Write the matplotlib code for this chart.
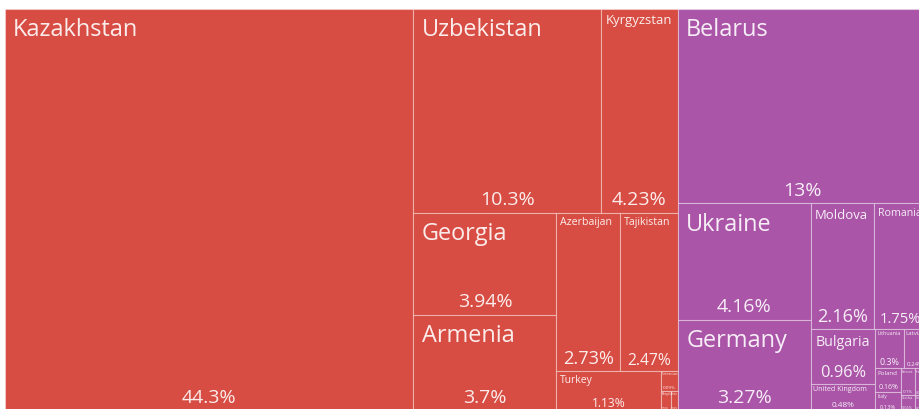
import matplotlib.pyplot as plt
from matplotlib.patches import Rectangle

plt.rcParams['font.family'] = ['Open Sans', 'DejaVu Sans']

# export shares (%) by destination, grouped by continent
asia_countries = ["Kazakhstan", "Uzbekistan", "Kyrgyzstan", "Georgia", "Armenia",
                  "Azerbaijan", "Tajikistan", "Turkey", "Turkmenistan", "Mongolia", "China"]
asia_shares = [44.3, 10.3, 4.23, 3.94, 3.7, 2.73, 2.47, 1.13, 0.09, 0.05, 0.04]

europe_countries = ["Belarus", "Ukraine", "Germany", "Moldova", "Romania", "Bulgaria",
                    "United Kingdom", "Lithuania", "Latvia", "Poland", "Italy",
                    "Estonia", "France", "Czechia", "Serbia"]
europe_shares = [13, 4.16, 3.27, 2.16, 1.75, 0.96, 0.48, 0.3, 0.24, 0.16, 0.13,
                 0.1, 0.08, 0.06, 0.05]

group_colors = {"Asia": "#d84d43", "Europe": "#aa55a8"}

PHI = (1 + 5 ** 0.5) / 2


def squarify(values, x0, y0, x1, y1, ratio=PHI):
    # port of d3's treemapSquarify (y grows downward)
    rects = [None] * len(values)
    value = float(sum(values))
    n = len(values)
    i0 = i1 = 0
    while i0 < n:
        dx, dy = x1 - x0, y1 - y0
        sum_v = values[i1]
        i1 += 1
        min_v = max_v = sum_v
        alpha = max(dy / dx, dx / dy) / (value * ratio)
        beta = sum_v * sum_v * alpha
        min_ratio = max(max_v / beta, beta / min_v)
        while i1 < n:
            v = values[i1]
            s = sum_v + v
            mn, mx = min(min_v, v), max(max_v, v)
            beta = s * s * alpha
            new_ratio = max(mx / beta, beta / mn)
            if new_ratio > min_ratio:
                break
            sum_v, min_v, max_v, min_ratio = s, mn, mx, new_ratio
            i1 += 1
        if dx < dy:
            # row across the top, children left to right
            ny = y0 + dy * sum_v / value
            x = x0
            for k in range(i0, i1):
                w = dx * values[k] / sum_v
                rects[k] = (x, y0, x + w, ny)
                x += w
            y0 = ny
        else:
            # column on the left, children top to bottom
            nx = x0 + dx * sum_v / value
            y = y0
            for k in range(i0, i1):
                h = dy * values[k] / sum_v
                rects[k] = (x0, y, nx, y + h)
                y += h
            x0 = nx
        value -= sum_v
        i0 = i1
    return rects


W, H = 919, 409
fig = plt.figure(figsize=(W / 100, H / 100), dpi=100)
ax = fig.add_axes([0, 0, 1, 1])
ax.set_xlim(0, W)
ax.set_ylim(H, 0)
ax.axis('off')
renderer = fig.canvas.get_renderer()

groups = [("Asia", asia_countries, asia_shares), ("Europe", europe_countries, europe_shares)]
group_rects = squarify([sum(g[2]) for g in groups], 5, 9, 926, 411)

px = 72 / 100  # points per pixel


def fit_text(x, y, s, box_w, max_px, **kw):
    # shrink the font until the label fits the box width
    size = max_px
    t = ax.text(x, y, s, fontsize=size * px, **kw)
    while size > 2.5:
        pad = 0.35 * size
        t.set_fontsize(size * px)
        if t.get_window_extent(renderer).width <= box_w - 2 * pad:
            break
        size *= 0.93
    return t, size


for (gname, names, shares), (gx0, gy0, gx1, gy1) in zip(groups, group_rects):
    color = group_colors[gname]
    rects = squarify(shares, gx0, gy0, gx1, gy1)
    for name, share, (x0, y0, x1, y1) in zip(names, shares, rects):
        w, h = x1 - x0, y1 - y0
        ax.add_patch(Rectangle((x0, y0), w, h, facecolor=color,
                               edgecolor=(1, 1, 1, 0.35), linewidth=0.8))
        cx = (x0 + x1) / 2
        # country name, top-left
        t, size = fit_text(x0, y0, name, w, min(23.5, 0.26 * h), color='white',
                           alpha=0.9, ha='left', va='top')
        pad = 0.35 * size
        t.set_position((x0 + pad, y0 + 0.4 * size))
        # share, bottom centre (only if there is room under the name)
        pt, psize = fit_text(cx, y1, f"{share:.3g}%", w, min(19.5, 0.3 * h),
                             color='white', alpha=0.9, ha='center', va='center')
        if h < 1.6 * size + 1.4 * psize:
            pt.remove()
            continue
        pt.set_position((cx, y1 - 0.65 * psize))

fig.savefig("out.png", dpi=100, facecolor='white')
